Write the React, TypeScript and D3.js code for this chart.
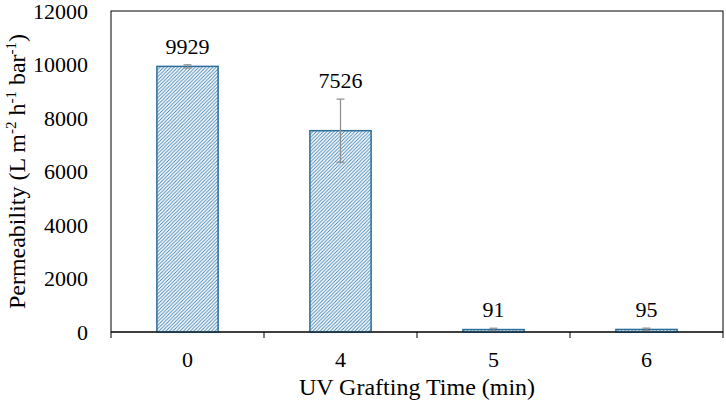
import React from "react";
import * as d3 from "d3";

const categories = ["0", "4", "5", "6"];
const values = [9929, 7526, 91, 95];
const errors = [60, 1180, 50, 50];
const yTicks = [0, 2000, 4000, 6000, 8000, 10000, 12000];

const W = 726;
const H = 408;
const margin = { left: 111, right: 3, top: 11, bottom: 76 };

export default function App() {
  const x = d3
    .scaleBand<string>()
    .domain(categories)
    .range([margin.left, W - margin.right])
    .paddingInner(0.6)
    .paddingOuter(0.3);
  const xOuter = d3
    .scaleBand<string>()
    .domain(categories)
    .range([margin.left, W - margin.right]);
  const y = d3.scaleLinear().domain([0, 12000]).range([H - margin.bottom, margin.top]);
  const y0 = y(0);
  const font = "'Times New Roman', 'Liberation Serif', serif";
  const barColor = "#2a6d99";
  const hatchColor = "#3f82b3";
  const errColor = "#8c8c8c";
  const boundaries = categories.map((c) => xOuter(c)!).concat([W - margin.right]);
  const ts = { fontFamily: font };

  return (
    <svg width={W} height={H} style={{ position: "absolute", left: 0, top: 0, fontFamily: font }}>
      <defs>
        <pattern id="hatch" patternUnits="userSpaceOnUse" width={3.5} height={3.5}>
          <rect width={3.5} height={3.5} fill="#fff" />
          <path d="M0,3.5 L3.5,0 M-1,1 L1,-1 M2.5,4.5 L4.5,2.5" stroke={hatchColor} strokeWidth={0.9} />
        </pattern>
      </defs>
      <rect x={0} y={0} width={W} height={H} fill="#fff" />
      {/* plot border */}
      <rect
        x={margin.left}
        y={margin.top}
        width={W - margin.right - margin.left}
        height={y0 - margin.top}
        fill="none"
        stroke="#000"
        strokeWidth={1}
      />
      {/* y tick labels */}
      {yTicks.map((t) => (
        <text key={t} x={88} y={y(t)} dy="0.35em" textAnchor="end" fontSize={22} fill="#000" style={ts}>
          {t}
        </text>
      ))}
      {/* bars */}
      {categories.map((c, i) => (
        <rect
          key={c}
          x={x(c)}
          y={y(values[i])}
          width={x.bandwidth()}
          height={y0 - y(values[i])}
          fill="url(#hatch)"
          stroke={barColor}
          strokeWidth={1.5}
        />
      ))}
      {/* error bars */}
      {categories.map((c, i) => {
        const cx = x(c)! + x.bandwidth() / 2;
        const top = y(values[i] + errors[i]);
        const bot = y(Math.max(0, values[i] - errors[i]));
        return (
          <g key={c} stroke={errColor} strokeWidth={1.2}>
            <line x1={cx} x2={cx} y1={top} y2={bot} />
            <line x1={cx - 4} x2={cx + 4} y1={top} y2={top} />
            <line x1={cx - 4} x2={cx + 4} y1={bot} y2={bot} />
          </g>
        );
      })}
      {/* bottom axis */}
      <line x1={margin.left} x2={W - margin.right} y1={y0} y2={y0} stroke="#000" strokeWidth={1.2} />
      {boundaries.map((b, i) => (
        <line key={i} x1={b} x2={b} y1={y0} y2={y0 + 6} stroke="#000" strokeWidth={1} />
      ))}
      {/* category labels */}
      {categories.map((c) => (
        <text
          key={c}
          x={xOuter(c)! + xOuter.bandwidth() / 2}
          y={367}
          textAnchor="middle"
          fontSize={22}
          fill="#000"
          style={ts}
        >
          {c}
        </text>
      ))}
      {/* value labels */}
      {categories.map((c, i) => (
        <text
          key={c}
          x={x(c)! + x.bandwidth() / 2}
          y={y(values[i] + errors[i]) - 11}
          textAnchor="middle"
          fontSize={22}
          fill="#000"
          style={ts}
        >
          {values[i]}
        </text>
      ))}
      {/* x title */}
      <text x={(margin.left + W - margin.right) / 2} y={395} textAnchor="middle" fontSize={24} fill="#000" style={ts}>
        UV Grafting Time (min)
      </text>
      {/* y title */}
      <text
        transform={`translate(25, ${(margin.top + y0) / 2}) rotate(-90)`}
        textAnchor="middle"
        fontSize={24}
        fill="#000"
        style={ts}
      >
        Permeability (L m
        <tspan fontSize={15} dy={-9}>-2</tspan>
        <tspan dy={9}> h</tspan>
        <tspan fontSize={15} dy={-9}>-1</tspan>
        <tspan dy={9}> bar</tspan>
        <tspan fontSize={15} dy={-9}>-1</tspan>
        <tspan dy={9}>)</tspan>
      </text>
    </svg>
  );
}
